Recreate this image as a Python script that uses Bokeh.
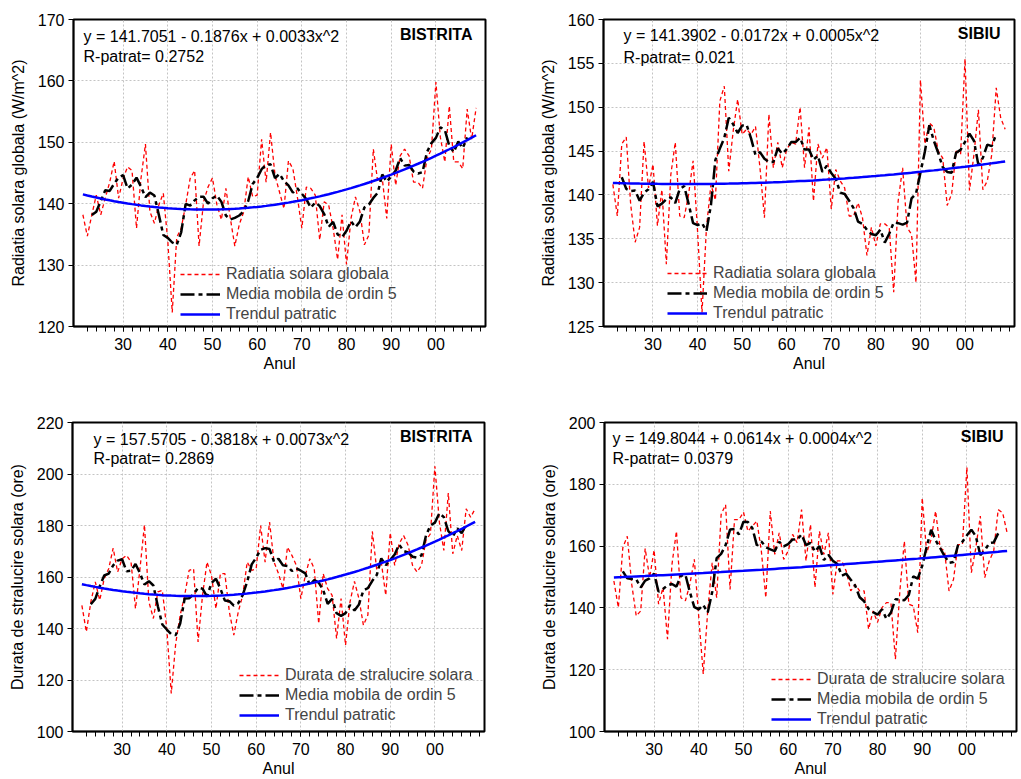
import numpy as np
import pandas as pd
from bokeh.plotting import figure
from bokeh.layouts import row, column
from bokeh.models import FixedTicker, Label, Legend, LegendItem, Range1d
from bokeh.embed import file_html
from bokeh.resources import INLINE

FONT = "Liberation Sans"

years = list(range(1921, 2010))

rad_bistrita = [
    138.2, 134.7, 138.2, 141.4, 138.2, 140.9, 143.5, 146.9, 140.9, 144.1,
    146.0, 145.4, 136.0, 144.1, 149.7, 138.7, 136.8, 139.8, 141.7, 133.9,
    122.3, 134.5, 136.0, 139.8, 144.1, 145.4, 133.1, 140.3, 142.7, 144.2,
    139.8, 137.4, 142.5, 137.6, 133.1, 136.6, 138.7, 144.4, 141.1, 141.4,
    150.5, 143.5, 151.6, 144.6, 141.9, 139.2, 147.0, 145.7, 141.1, 136.0,
    142.7, 142.5, 141.4, 134.1, 140.3, 139.8, 136.0, 130.9, 138.2, 130.1,
    137.6, 141.1, 138.7, 133.3, 134.9, 148.9, 143.5, 144.1, 137.6, 149.7,
    143.0, 147.8, 148.9, 147.8, 143.5, 143.5, 142.5, 147.3, 148.9, 159.8,
    150.8, 146.8, 155.9, 146.8, 146.8, 145.7, 155.4, 150.5, 155.6,
]

rad_sibiu = [
    141.2, 137.6, 145.8, 146.6, 138.9, 134.6, 136.3, 146.1, 140.8, 143.5,
    136.5, 140.6, 132.1, 142.3, 146.0, 137.6, 137.4, 140.1, 143.9, 135.9,
    126.6, 136.3, 141.2, 139.4, 150.7, 152.4, 142.7, 147.3, 150.9, 146.9,
    147.5, 146.9, 147.8, 143.1, 137.4, 149.2, 143.1, 146.0, 143.1, 145.2,
    146.0, 145.8, 150.0, 143.1, 147.7, 139.3, 145.8, 144.2, 145.4, 138.4,
    142.9, 141.6, 140.8, 137.6, 137.6, 139.1, 137.4, 133.1, 136.3, 134.2,
    136.7, 136.7, 136.3, 128.9, 139.3, 143.1, 136.3, 135.5, 130.0, 153.1,
    145.8, 148.2, 147.7, 145.0, 144.2, 138.8, 140.1, 145.0, 144.6, 155.5,
    140.5, 144.6, 149.7, 140.6, 141.6, 144.6, 152.2, 148.8, 147.5,
]

dur_bistrita = [
    149.0, 138.7, 150.3, 158.1, 151.0, 159.4, 163.2, 171.2, 161.9, 167.1,
    168.4, 165.8, 147.7, 163.2, 180.3, 150.3, 143.9, 154.2, 154.8, 140.0,
    114.8, 134.2, 145.2, 152.9, 162.6, 163.2, 134.8, 152.9, 165.8, 160.6,
    147.7, 161.3, 161.3, 146.5, 137.4, 146.5, 152.9, 165.8, 162.6, 163.2,
    180.0, 165.8, 181.3, 165.8, 161.3, 155.5, 171.6, 168.4, 164.5, 151.6,
    160.6, 167.1, 163.2, 141.9, 161.3, 155.5, 152.9, 136.1, 151.6, 133.5,
    150.3, 158.3, 151.6, 141.3, 145.2, 177.7, 162.6, 165.8, 152.9, 177.2,
    164.5, 172.9, 176.1, 172.3, 164.5, 161.9, 164.5, 174.2, 176.8, 203.0,
    181.3, 170.3, 192.6, 169.0, 176.1, 170.3, 186.5, 183.2, 186.5,
]

dur_sibiu = [
    148.7, 140.1, 159.5, 163.2, 147.6, 137.4, 139.0, 159.2, 149.8, 158.7,
    141.2, 146.6, 129.9, 154.1, 164.8, 143.3, 142.3, 147.6, 155.7, 136.9,
    118.6, 139.0, 154.6, 143.3, 170.2, 173.4, 146.0, 168.6, 168.6, 171.0,
    164.8, 166.5, 168.1, 158.4, 143.3, 171.3, 157.3, 164.3, 155.7, 158.4,
    163.8, 161.1, 171.8, 155.2, 167.0, 146.6, 164.8, 157.3, 164.3, 144.4,
    155.2, 155.2, 151.9, 145.5, 147.6, 145.5, 145.5, 133.1, 139.0, 135.3,
    140.1, 141.7, 141.7, 123.4, 145.5, 161.6, 141.2, 140.6, 132.0, 175.6,
    157.8, 162.2, 171.3, 159.5, 158.4, 145.5, 149.2, 160.5, 160.5, 185.5,
    151.4, 159.5, 169.7, 149.8, 155.2, 158.4, 171.8, 170.8, 164.3,
]

# quadratic trend coefficients as printed on the chart (x = 1 for 1921)
coef_rad_bistrita = [141.7051, -0.1876, 0.0033]
coef_rad_sibiu = [141.3902, -0.0172, 0.0005]
coef_dur_bistrita = [157.5705, -0.3818, 0.0073]
coef_dur_sibiu = [149.8044, 0.0614, 0.0004]

eq_texts = [
    "y = 141.7051 - 0.1876x + 0.0033x^2",
    "y = 141.3902 - 0.0172x + 0.0005x^2",
    "y = 157.5705 - 0.3818x + 0.0073x^2",
    "y = 149.8044 + 0.0614x + 0.0004x^2",
]
r2_texts = ["R-patrat= 0.2752", "R-patrat= 0.021", "R-patrat= 0.2869", "R-patrat= 0.0379"]
stations = ["BISTRITA", "SIBIU", "BISTRITA", "SIBIU"]
series_labels = ["Radiatia solara globala", "Radiatia solara globala",
                 "Durata de stralucire solara", "Durata de stralucire solara"]
ma_label = "Media mobila de ordin 5"
trend_label = "Trendul patratic"
ylabels = ["Radiatia solara globala (W/m^2)", "Radiatia solara globala (W/m^2)",
           "Durata de stralucire solara (ore)", "Durata de stralucire solara (ore)"]
x_major = [1930, 1940, 1950, 1960, 1970, 1980, 1990, 2000]
x_major_labels = ["30", "40", "50", "60", "70", "80", "90", "00"]
x_label = "Anul"


def make_panel(values, coefs, eq, r2, station, slabel, ylabel, y0, y1, ystep,
               width, height, bl, br, bt, bb, eq_dx, eq_dy, r2_dy, st_dx, st_dy, leg_x, leg_y):
    x0, x1 = 1918.9, 2011.1
    fw = width - bl - br
    fh = height - bt - bb
    p = figure(width=width, height=height, output_backend="svg", toolbar_location=None,
               x_range=Range1d(x0, x1), y_range=Range1d(y0, y1),
               min_border_left=bl, min_border_right=br, min_border_top=bt, min_border_bottom=bb)
    p.background_fill_color = "white"
    p.border_fill_color = "white"
    p.outline_line_color = "black"
    p.outline_line_width = 2

    yrs = np.array(years)
    vals = np.array(values)
    ma = pd.Series(vals).rolling(5, center=True).mean().to_numpy()
    xx = yrs - 1920
    trend = coefs[0] + coefs[1] * xx + coefs[2] * xx ** 2

    r1 = p.line(yrs, vals, line_color="#FF0000", line_width=1.3, line_dash="4 3")
    r2r = p.line(yrs, ma, line_color="black", line_width=2.5, line_dash="14 4 4 4")
    r3 = p.line(yrs, trend, line_color="#0000FF", line_width=2.5)

    # axes
    xa = p.xaxis[0]
    xa.ticker = FixedTicker(ticks=x_major, minor_ticks=list(range(1922, 2011, 2)))
    xa.major_label_overrides = {t: l for t, l in zip(x_major, x_major_labels)}
    xa.axis_label = x_label
    ya = p.yaxis[0]
    ya.ticker = FixedTicker(ticks=list(range(y0, y1 + 1, ystep)))
    ya.axis_label = ylabel
    for ax in (xa, ya):
        ax.axis_line_color = "black"
        ax.axis_line_width = 1.5
        ax.major_tick_line_color = "black"
        ax.major_tick_out = 5
        ax.major_tick_in = 0
        ax.major_label_text_font = FONT
        ax.major_label_text_font_size = "16px"
        ax.major_label_text_color = "black"
        ax.axis_label_text_font = FONT
        ax.axis_label_text_font_size = "16px"
        ax.axis_label_text_font_style = "normal"
        ax.axis_label_text_color = "black"
    xa.minor_tick_line_color = "black"
    xa.minor_tick_out = 5
    xa.minor_tick_in = 0
    xa.major_label_standoff = 6
    xa.axis_label_standoff = 2
    ya.minor_tick_line_color = None
    ya.major_label_standoff = 4
    ya.axis_label_standoff = 8

    for g in (p.xgrid[0], p.ygrid[0]):
        g.grid_line_color = "#C4C4C4"
        g.grid_line_dash = "2 2"
        g.grid_line_width = 1

    # texts
    xs = (x1 - x0) / fw
    ys = (y1 - y0) / fh
    p.add_layout(Label(x=x0 + eq_dx * xs, y=y1 - eq_dy * ys, text=eq, text_font=FONT,
                       text_font_size="16px", text_baseline="middle", text_color="black"))
    p.add_layout(Label(x=x0 + eq_dx * xs, y=y1 - r2_dy * ys, text=r2, text_font=FONT,
                       text_font_size="16px", text_baseline="middle", text_color="black"))
    p.add_layout(Label(x=x1 - st_dx * xs, y=y1 - st_dy * ys, text=station, text_font=FONT,
                       text_font_size="16px", text_font_style="bold", text_align="right",
                       text_baseline="middle", text_color="black"))

    legend = Legend(items=[LegendItem(label=slabel, renderers=[r1]),
                           LegendItem(label=ma_label, renderers=[r2r]),
                           LegendItem(label=trend_label, renderers=[r3])],
                    location=(leg_x, leg_y), padding=0, margin=0, spacing=0,
                    glyph_width=40, glyph_height=20, label_height=20, label_standoff=6,
                    label_text_font=FONT, label_text_font_size="16px",
                    background_fill_alpha=0, border_line_alpha=0)
    p.add_layout(legend)
    return p


p1 = make_panel(rad_bistrita, coef_rad_bistrita, eq_texts[0], r2_texts[0], stations[0],
                series_labels[0], ylabels[0], 120, 170, 10,
                530, 390, 73, 45, 16, 64, 10, 17, 37, 13, 15, 107, 2)
p2 = make_panel(rad_sibiu, coef_rad_sibiu, eq_texts[1], r2_texts[1], stations[1],
                series_labels[1], ylabels[1], 125, 160, 5,
                491, 390, 73, 7, 19, 63, 20, 16, 38, 14, 14, 64, 3)
p3 = make_panel(dur_bistrita, coef_dur_bistrita, eq_texts[2], r2_texts[2], stations[2],
                series_labels[2], ylabels[2], 100, 220, 20,
                530, 389, 72, 46, 32, 47, 21, 17, 36, 12, 14, 167, 6)
p4 = make_panel(dur_sibiu, coef_dur_sibiu, eq_texts[3], r2_texts[3], stations[3],
                series_labels[3], ylabels[3], 100, 200, 20,
                491, 389, 74, 5, 31, 48, 8, 16, 36, 13, 14, 167, 2)

layout = column(row(p1, p2), row(p3, p4))
open("out.html", "w").write(file_html(layout, INLINE))
